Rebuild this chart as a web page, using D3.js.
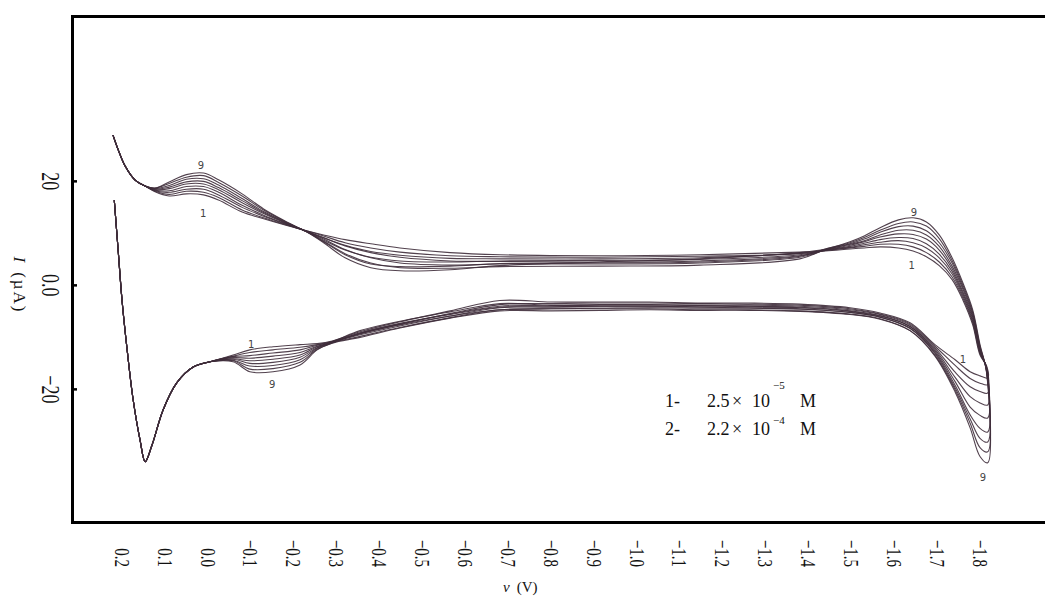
<!DOCTYPE html>
<html>
<head>
<meta charset="utf-8">
<script src="https://cdn.jsdelivr.net/npm/d3@7"></script>
<style>
  body { margin: 0; background: #fff; }
  svg { display: block; }
  text { font-family: "Liberation Serif", "DejaVu Serif", serif; fill: #111; }
</style>
</head>
<body>
<div id="chart"></div>
<script>
// Axis ticks
const xTicks = [0.2, 0.1, 0.0, -0.1, -0.2, -0.3, -0.4, -0.5, -0.6, -0.7, -0.8, -0.9,
                -1.0, -1.1, -1.2, -1.3, -1.4, -1.5, -1.6, -1.7, -1.8];
const yTicks = [20, 0, -20];

// Start of the cathodic scan (same for every curve), V and uA
const headV = [0.218, 0.209, 0.200, 0.188, 0.174, 0.158, 0.146, 0.130, 0.104, 0.072, 0.034, -0.005];
const headI = [16.3, 6.7, -2.9, -12.5, -22.1, -29.8, -34.0, -30.8, -24.0, -18.8, -15.8, -14.8];

// Cathodic scan, one array per curve (1..9)
const lowerV = [-0.059, -0.098, -0.152, -0.215, -0.255, -0.290, -0.355, -0.448, -0.565, -0.681, -0.800, -0.914,
                -1.030, -1.147, -1.260, -1.380, -1.497, -1.567, -1.637, -1.695, -1.742, -1.777, -1.800, -1.818];
const lower1 = [-13.5, -12.5, -11.9, -11.5, -11.3, -10.8, -9.0, -7.1, -5.0, -3.0, -3.3, -3.3, -3.3, -3.5, -3.5, -3.7, -4.4, -5.4, -7.3, -11.5, -14.4, -16.7, -17.5, -17.9];
const lower2 = [-13.7, -13.0, -12.5, -12.0, -11.5, -10.9, -9.4, -7.6, -5.5, -3.8, -3.6, -3.5, -3.5, -3.6, -3.7, -3.9, -4.6, -5.6, -7.5, -11.8, -15.5, -18.0, -18.9, -19.2];
const lower3 = [-13.8, -13.6, -13.1, -12.5, -11.6, -10.9, -8.8, -7.0, -5.2, -3.6, -3.9, -3.8, -3.8, -3.9, -3.9, -4.1, -4.8, -5.7, -7.7, -12.1, -16.8, -19.6, -20.5, -20.8];
const lower4 = [-14.0, -14.1, -13.7, -13.0, -11.8, -11.0, -9.6, -7.9, -6.0, -4.4, -4.2, -4.1, -4.1, -4.2, -4.2, -4.4, -5.1, -6.0, -8.0, -12.4, -17.8, -21.5, -22.7, -23.1];
const lower5 = [-14.2, -14.6, -14.3, -13.5, -11.9, -11.0, -9.2, -7.4, -5.6, -4.1, -4.0, -3.9, -3.9, -4.0, -4.1, -4.3, -5.0, -5.9, -8.0, -12.7, -18.6, -23.5, -25.1, -25.6];
const lower6 = [-14.3, -15.1, -14.9, -13.9, -12.1, -11.1, -9.9, -8.2, -6.3, -4.8, -4.6, -4.5, -4.4, -4.5, -4.5, -4.7, -5.3, -6.2, -8.3, -13.0, -19.3, -25.0, -27.6, -28.3];
const lower7 = [-14.5, -15.6, -15.5, -14.4, -12.2, -11.1, -9.3, -7.5, -5.7, -4.3, -4.3, -4.2, -4.2, -4.3, -4.4, -4.6, -5.3, -6.2, -8.4, -13.2, -19.8, -25.8, -29.5, -30.2];
const lower8 = [-14.6, -16.2, -16.1, -14.9, -12.4, -11.2, -10.1, -8.3, -6.4, -5.0, -5.0, -4.9, -4.8, -4.9, -4.9, -5.1, -5.7, -6.6, -8.8, -13.5, -20.2, -26.6, -31.3, -32.1];
const lower9 = [-14.8, -16.7, -16.7, -15.4, -12.5, -11.2, -9.4, -7.7, -6.0, -4.8, -4.6, -4.6, -4.6, -4.8, -4.8, -5.0, -5.6, -6.5, -8.8, -13.7, -20.6, -27.5, -33.0, -34.2];

// Anodic (return) scan, one array per curve (1..9)
const upperV = [-1.815, -1.800, -1.783, -1.760, -1.735, -1.705, -1.675, -1.644, -1.610, -1.567, -1.530, -1.497,
                -1.440, -1.380, -1.147, -0.914, -0.681, -0.565, -0.448, -0.380, -0.320, -0.270, -0.230, -0.180,
                -0.130, -0.080, -0.025, 0.010, 0.050, 0.090, 0.123];
const upper1 = [-15.5, -13.5, -7.7, -2.9, 1.0, 3.7, 5.4, 6.5, 7.1, 7.3, 7.1, 6.9, 6.5, 6.3, 5.8, 5.6, 5.8, 6.2, 7.1, 7.9, 8.7, 9.6, 10.4, 11.5, 12.7, 14.0, 16.3, 17.3, 17.5, 17.1, 17.9];
const upper2 = [-15.7, -13.2, -7.3, -2.5, 1.5, 4.4, 6.2, 7.3, 7.8, 7.8, 7.4, 7.1, 6.6, 6.0, 5.5, 5.3, 5.4, 5.6, 6.3, 7.1, 8.1, 9.4, 10.4, 11.6, 12.9, 14.4, 16.8, 17.8, 18.0, 17.4, 18.0];
const upper3 = [-15.8, -13.0, -7.0, -2.1, 2.1, 5.2, 7.1, 8.1, 8.5, 8.2, 7.7, 7.2, 6.6, 5.6, 4.6, 4.4, 4.5, 4.6, 5.3, 6.2, 7.5, 9.1, 10.3, 11.7, 13.2, 14.9, 17.3, 18.4, 18.4, 17.8, 18.1];
const upper4 = [-16.0, -12.8, -6.6, -1.7, 2.6, 5.9, 7.9, 8.9, 9.1, 8.7, 8.0, 7.4, 6.7, 6.1, 5.2, 5.0, 5.0, 5.1, 5.7, 6.4, 7.6, 9.0, 10.3, 11.8, 13.4, 15.3, 17.8, 18.9, 18.9, 18.1, 18.2];
const upper5 = [-16.1, -12.5, -6.2, -1.3, 3.1, 6.7, 8.8, 9.7, 9.8, 9.2, 8.3, 7.6, 6.7, 5.3, 4.2, 4.0, 4.0, 3.8, 4.2, 5.2, 6.8, 8.8, 10.3, 11.9, 13.7, 15.8, 18.3, 19.4, 19.4, 18.5, 18.3];
const upper6 = [-16.3, -12.2, -5.9, -0.8, 3.6, 7.4, 9.6, 10.5, 10.5, 9.6, 8.5, 7.8, 6.8, 5.8, 4.9, 4.7, 4.6, 4.4, 4.6, 5.3, 6.7, 8.6, 10.3, 12.0, 13.9, 16.2, 18.7, 19.9, 19.8, 18.8, 18.4];
const upper7 = [-16.4, -12.0, -5.5, -0.4, 4.2, 8.1, 10.4, 11.3, 11.2, 10.1, 8.8, 7.9, 6.8, 5.0, 3.8, 3.6, 3.5, 3.2, 3.3, 4.2, 6.0, 8.4, 10.2, 12.1, 14.1, 16.6, 19.2, 20.4, 20.3, 19.1, 18.5];
const upper8 = [-16.6, -11.8, -5.2, 0.0, 4.7, 8.9, 11.3, 12.1, 11.8, 10.5, 9.1, 8.1, 6.9, 5.5, 4.4, 4.2, 4.1, 3.6, 3.5, 4.0, 5.8, 8.3, 10.2, 12.2, 14.4, 17.1, 19.7, 21.0, 20.7, 19.5, 18.6];
const upper9 = [-16.7, -11.5, -4.8, 0.4, 5.2, 9.6, 12.1, 12.9, 12.5, 11.0, 9.4, 8.3, 6.9, 6.2, 5.0, 4.4, 3.7, 2.9, 2.7, 3.3, 5.2, 8.1, 10.2, 12.3, 14.6, 17.5, 20.2, 21.5, 21.2, 19.8, 18.6];

// End of the anodic scan (same for every curve)
const tailV = [0.146, 0.170, 0.193, 0.209, 0.221];
const tailI = [19.0, 20.2, 22.9, 26.0, 28.8];

const lowers = [lower1, lower2, lower3, lower4, lower5, lower6, lower7, lower8, lower9];
const uppers = [upper1, upper2, upper3, upper4, upper5, upper6, upper7, upper8, upper9];

// Curve number labels (placed at V, uA)
const labelText = ["9", "1", "9", "1", "1", "9", "1", "9"];
const labelV = [0.016, 0.011, -1.646, -1.641, -0.101, -0.150, -1.760, -1.807];
const labelI = [22.9, 13.8, 14.0, 3.8, -11.5, -19.2, -14.4, -37.1];

// Legend
const legendNum = ["1-", "2-"];
const legendMantissa = ["2.5", "2.2"];
const legendExp = ["\u22125", "\u22124"];

// Set up the dimensions and margins of the plot
const margin = { top: 16, right: 0, bottom: 74, left: 72 };
const width = 1045 - margin.left;
const height = 596 - margin.top - margin.bottom;

const svg = d3.select("#chart")
    .append("svg")
    .attr("width", 1045)
    .attr("height", 596);

const g = svg.append("g")
    .attr("transform", `translate(${margin.left},${margin.top})`);

// Scales
const x = d3.scaleLinear().domain([0.2, -1.8]).range([50, 908]);
const y = d3.scaleLinear().domain([-45.6, 51.7]).range([height, 0]);

// Curves
const line = d3.line()
    .x(d => x(d[0]))
    .y(d => y(d[1]))
    .curve(d3.curveCatmullRom.alpha(0.5));

const curves = lowers.map(function (lo, k) {
    const pts = [];
    headV.forEach((v, i) => pts.push([v, headI[i]]));
    lowerV.forEach((v, i) => pts.push([v, lo[i]]));
    upperV.forEach((v, i) => pts.push([v, uppers[k][i]]));
    tailV.forEach((v, i) => pts.push([v, tailI[i]]));
    return pts;
});

g.selectAll(".cv")
    .data(curves)
    .enter()
    .append("path")
    .attr("class", "cv")
    .attr("fill", "none")
    .attr("stroke", "#3f2e3b")
    .attr("stroke-width", 1.1)
    .attr("stroke-opacity", 0.9)
    .attr("d", line);

// Curve labels
g.selectAll(".lbl")
    .data(labelText)
    .enter()
    .append("text")
    .attr("class", "lbl")
    .attr("x", (d, i) => x(labelV[i]))
    .attr("y", (d, i) => y(labelI[i]))
    .attr("dy", "0.35em")
    .attr("text-anchor", "middle")
    .style("font-family", "'DejaVu Sans', sans-serif")
    .style("font-size", "10px")
    .style("fill", "#444")
    .text(d => d);

// Y axis (ticks inside, labels rotated)
const yAxis = g.append("g")
    .call(d3.axisLeft(y)
        .tickValues(yTicks)
        .tickSize(-5)
        .tickFormat(d => d === 0 ? "0.0" : d3.format("d")(d)));
yAxis.select(".domain").remove();
yAxis.selectAll(".tick line").attr("stroke", "#000").attr("stroke-width", 2.5);
yAxis.selectAll(".tick text")
    .attr("x", null)
    .attr("dy", "0.35em")
    .attr("text-anchor", "middle")
    .attr("transform", "translate(-21,0) rotate(90) scale(0.72,1)")
    .style("font-family", "'Liberation Serif', serif")
    .style("font-size", "25px")
    .style("fill", "#111");

// X axis (no tick marks, labels rotated)
const xAxis = g.append("g")
    .attr("transform", `translate(0,${height})`)
    .call(d3.axisBottom(x)
        .tickValues(xTicks)
        .tickSize(0)
        .tickFormat(d3.format(".1f")));
xAxis.select(".domain").remove();
xAxis.selectAll(".tick text")
    .attr("y", null)
    .attr("dy", "0.35em")
    .attr("text-anchor", "end")
    .attr("transform", "translate(0,45) rotate(90) scale(0.68,1)")
    .style("font-family", "'Liberation Serif', serif")
    .style("font-size", "22px")
    .style("fill", "#111");

// Frame
svg.append("rect")
    .attr("x", margin.left + 0.5)
    .attr("y", margin.top + 0.5)
    .attr("width", 1010)
    .attr("height", height)
    .attr("fill", "none")
    .attr("stroke", "#000")
    .attr("stroke-width", 3);

// Axis titles
const yTitle = svg.append("text")
    .attr("transform", "translate(20,285) rotate(90)")
    .attr("text-anchor", "middle")
    .attr("dy", "0.35em")
    .style("font-size", "17px")
    .style("letter-spacing", "2px");
yTitle.append("tspan").style("font-style", "italic").text("I");
yTitle.append("tspan").attr("dx", 8).text("(\u00b5A)");

const xTitle = svg.append("text")
    .attr("x", 503)
    .attr("y", 592)
    .style("font-size", "15px");
xTitle.append("tspan").style("font-style", "italic").text("v");
xTitle.append("tspan").attr("dx", 7).text("(V)");

// Legend
const legendY = [407, 435];
const legendSupY = [389, 424];
legendNum.forEach(function (n, i) {
    const t = svg.append("text")
        .attr("y", legendY[i])
        .style("font-size", "18px");
    t.append("tspan").attr("x", 665).text(n);
    t.append("tspan").attr("x", 707).text(legendMantissa[i]);
    t.append("tspan").attr("x", 732).text("\u00d7");
    t.append("tspan").attr("x", 752).text("10");
    t.append("tspan").attr("x", 800).text("M");
    svg.append("text")
        .attr("x", 773)
        .attr("y", legendSupY[i])
        .style("font-size", "11px")
        .text(legendExp[i]);
});
</script>
</body>
</html>
